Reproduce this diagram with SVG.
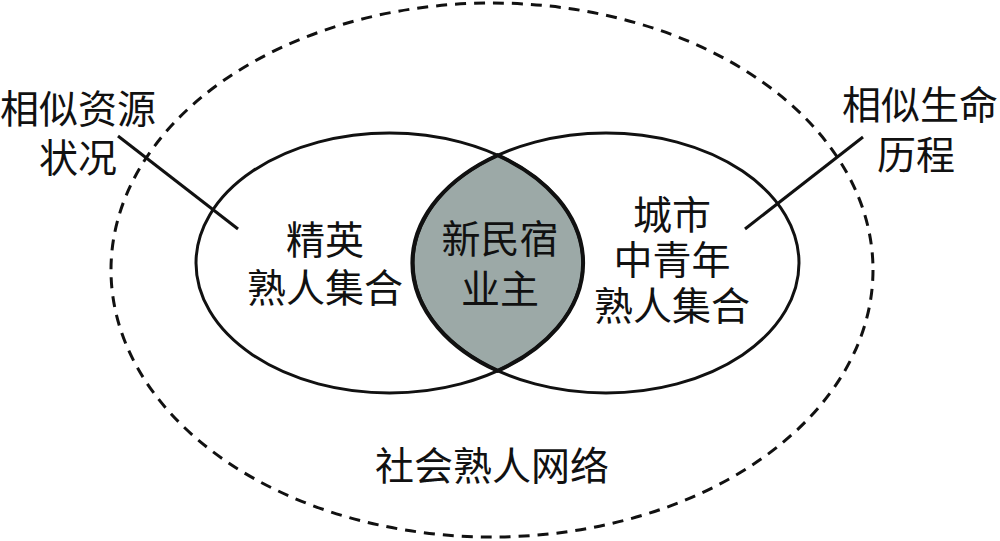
<svg xmlns="http://www.w3.org/2000/svg" width="1000" height="541" viewBox="0 0 1000 541">
<style>
text{font-family:"Noto Sans CJK SC","Noto Sans CJK JP",sans-serif;font-size:39px;fill:#111;text-anchor:middle;dominant-baseline:central}
.set{fill:none;stroke:#111;stroke-width:3}
.link{stroke:#111;stroke-width:3;fill:none}
</style>
<rect width="1000" height="541" fill="#fff"/>
<g id="network">
<ellipse cx="492" cy="270" rx="381" ry="267" fill="none" stroke="#111" stroke-width="3" stroke-dasharray="11 8"/>
<text x="492" y="463">社会熟人网络</text>
</g>
<g id="core">
<path d="M497.75 155.2 A193.5 130 0 0 1 497.75 370.8 A193.5 130 0 0 1 497.75 155.2 Z" fill="#9ca9a7" stroke="#111" stroke-width="4"/>
<text x="500" y="236">新民宿</text>
<text x="500" y="286">业主</text>
</g>
<g id="elite">
<ellipse class="set" cx="389.5" cy="263" rx="193.5" ry="130"/>
<text x="325" y="237">精英</text>
<text x="325" y="285">熟人集合</text>
</g>
<g id="urban">
<ellipse class="set" cx="606" cy="263" rx="193" ry="130"/>
<text x="672" y="212">城市</text>
<text x="672" y="257">中青年</text>
<text x="672" y="303">熟人集合</text>
</g>
<g id="resource-label">
<text x="78" y="106">相似资源</text>
<text x="78" y="155">状况</text>
</g>
<g id="life-label">
<text x="920" y="102">相似生命</text>
<text x="916" y="152">历程</text>
</g>
<g id="connectors">
<line class="link" x1="118" y1="136" x2="238" y2="229"/>
<line class="link" x1="863" y1="137" x2="745" y2="229"/>
</g>
</svg>
